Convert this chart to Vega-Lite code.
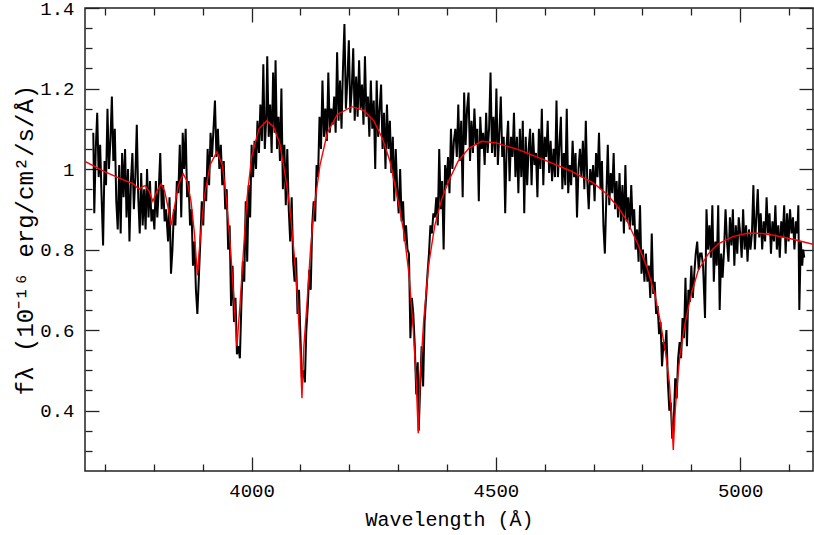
{
"$schema": "https://vega.github.io/schema/vega-lite/v6.json",
"width": 728, "height": 463,
"autosize": {"type": "none"},
"padding": {"left": 85, "top": 8, "right": 1, "bottom": 64},
"background": "white",
"config": {
 "view": {"stroke": "#222", "strokeWidth": 1.5},
 "axis": {"domain": false, "grid": false, "tickColor": "#222", "tickWidth": 1.3, "labelFont": "Liberation Mono", "labelFontSize": 19, "labelColor": "black", "titleFont": "Liberation Mono", "titleFontSize": 20, "titleFontWeight": "normal", "titleColor": "black", "labelOverlap": false}
},
"datasets": {
"spec": [
{"w":3676,"f":1.09},{"w":3678,"f":0.89},{"w":3681,"f":1.05},{"w":3684,"f":1.14},{"w":3687,"f":0.98},{"w":3690,"f":1.06},{"w":3693,"f":0.93},{"w":3696,"f":0.81},{"w":3699,"f":1.02},{"w":3702,"f":0.96},{"w":3705,"f":1.15},{"w":3708,"f":1.00},{"w":3711,"f":1.07},{"w":3714,"f":1.18},{"w":3717,"f":1.02},{"w":3720,"f":1.10},{"w":3723,"f":0.92},{"w":3726,"f":0.85},{"w":3729,"f":1.01},{"w":3732,"f":0.84},{"w":3735,"f":1.04},{"w":3738,"f":0.93},{"w":3741,"f":1.05},{"w":3744,"f":0.88},{"w":3747,"f":1.00},{"w":3750,"f":0.82},{"w":3753,"f":0.97},{"w":3756,"f":1.04},{"w":3759,"f":0.90},{"w":3762,"f":0.98},{"w":3765,"f":1.11},{"w":3768,"f":0.93},{"w":3771,"f":0.84},{"w":3774,"f":0.99},{"w":3777,"f":0.86},{"w":3780,"f":0.95},{"w":3783,"f":0.85},{"w":3786,"f":1.00},{"w":3789,"f":0.88},{"w":3792,"f":0.97},{"w":3795,"f":0.87},{"w":3798,"f":0.90},{"w":3801,"f":0.85},{"w":3804,"f":0.97},{"w":3807,"f":0.88},{"w":3810,"f":0.95},{"w":3813,"f":1.04},{"w":3816,"f":0.90},{"w":3819,"f":0.96},{"w":3822,"f":0.87},{"w":3825,"f":0.90},{"w":3829,"f":0.82},{"w":3832,"f":0.93},{"w":3835,"f":0.74},{"w":3838,"f":0.80},{"w":3841,"f":0.90},{"w":3844,"f":0.86},{"w":3847,"f":0.97},{"w":3850,"f":0.94},{"w":3853,"f":1.06},{"w":3856,"f":0.88},{"w":3859,"f":1.09},{"w":3862,"f":1.00},{"w":3865,"f":1.10},{"w":3868,"f":0.93},{"w":3871,"f":0.97},{"w":3874,"f":0.86},{"w":3877,"f":0.90},{"w":3880,"f":0.76},{"w":3883,"f":0.82},{"w":3886,"f":0.70},{"w":3889,"f":0.64},{"w":3892,"f":0.73},{"w":3895,"f":0.82},{"w":3898,"f":0.92},{"w":3901,"f":0.86},{"w":3904,"f":0.98},{"w":3907,"f":0.92},{"w":3910,"f":1.05},{"w":3913,"f":0.96},{"w":3916,"f":1.09},{"w":3919,"f":1.03},{"w":3922,"f":1.10},{"w":3925,"f":1.17},{"w":3928,"f":1.03},{"w":3931,"f":1.10},{"w":3934,"f":1.00},{"w":3937,"f":1.06},{"w":3940,"f":0.96},{"w":3943,"f":1.02},{"w":3946,"f":0.90},{"w":3949,"f":0.95},{"w":3952,"f":0.80},{"w":3955,"f":0.86},{"w":3958,"f":0.66},{"w":3961,"f":0.76},{"w":3964,"f":0.62},{"w":3967,"f":0.68},{"w":3970,"f":0.54},{"w":3973,"f":0.56},{"w":3976,"f":0.53},{"w":3979,"f":0.66},{"w":3982,"f":0.77},{"w":3985,"f":0.72},{"w":3988,"f":0.92},{"w":3991,"f":0.77},{"w":3994,"f":0.96},{"w":3997,"f":0.88},{"w":4000,"f":1.06},{"w":4003,"f":0.98},{"w":4006,"f":1.07},{"w":4009,"f":1.00},{"w":4012,"f":1.12},{"w":4015,"f":1.04},{"w":4018,"f":1.16},{"w":4021,"f":1.07},{"w":4024,"f":1.26},{"w":4027,"f":1.05},{"w":4030,"f":1.13},{"w":4032,"f":1.28},{"w":4035,"f":1.08},{"w":4038,"f":1.16},{"w":4041,"f":1.04},{"w":4044,"f":1.24},{"w":4047,"f":1.09},{"w":4049,"f":1.27},{"w":4052,"f":1.05},{"w":4055,"f":1.13},{"w":4058,"f":1.02},{"w":4061,"f":1.20},{"w":4064,"f":0.95},{"w":4067,"f":1.06},{"w":4070,"f":0.91},{"w":4073,"f":1.05},{"w":4076,"f":0.90},{"w":4079,"f":0.82},{"w":4082,"f":0.93},{"w":4085,"f":0.77},{"w":4088,"f":0.72},{"w":4091,"f":0.78},{"w":4094,"f":0.64},{"w":4097,"f":0.70},{"w":4100,"f":0.58},{"w":4103,"f":0.48},{"w":4106,"f":0.50},{"w":4109,"f":0.47},{"w":4112,"f":0.60},{"w":4115,"f":0.66},{"w":4118,"f":0.75},{"w":4121,"f":0.70},{"w":4124,"f":0.86},{"w":4127,"f":0.92},{"w":4130,"f":0.87},{"w":4133,"f":1.01},{"w":4136,"f":0.98},{"w":4139,"f":1.13},{"w":4142,"f":1.05},{"w":4145,"f":1.22},{"w":4148,"f":1.08},{"w":4151,"f":1.15},{"w":4154,"f":1.07},{"w":4157,"f":1.24},{"w":4160,"f":1.09},{"w":4163,"f":1.15},{"w":4166,"f":1.11},{"w":4169,"f":1.18},{"w":4172,"f":1.09},{"w":4175,"f":1.29},{"w":4178,"f":1.12},{"w":4181,"f":1.22},{"w":4184,"f":1.10},{"w":4187,"f":1.25},{"w":4190,"f":1.36},{"w":4193,"f":1.15},{"w":4196,"f":1.22},{"w":4199,"f":1.32},{"w":4202,"f":1.14},{"w":4205,"f":1.20},{"w":4208,"f":1.30},{"w":4211,"f":1.12},{"w":4214,"f":1.23},{"w":4217,"f":1.13},{"w":4220,"f":1.27},{"w":4223,"f":1.15},{"w":4226,"f":1.21},{"w":4229,"f":1.11},{"w":4232,"f":1.28},{"w":4235,"f":1.13},{"w":4238,"f":1.18},{"w":4241,"f":1.08},{"w":4244,"f":1.22},{"w":4247,"f":1.10},{"w":4250,"f":1.17},{"w":4253,"f":1.00},{"w":4256,"f":1.22},{"w":4259,"f":1.08},{"w":4262,"f":1.15},{"w":4265,"f":1.21},{"w":4268,"f":1.05},{"w":4271,"f":1.14},{"w":4274,"f":1.00},{"w":4277,"f":1.16},{"w":4280,"f":1.05},{"w":4283,"f":1.12},{"w":4286,"f":0.99},{"w":4289,"f":1.08},{"w":4292,"f":0.92},{"w":4295,"f":1.05},{"w":4298,"f":0.95},{"w":4301,"f":0.89},{"w":4304,"f":1.00},{"w":4307,"f":0.87},{"w":4310,"f":0.92},{"w":4313,"f":0.82},{"w":4316,"f":0.86},{"w":4319,"f":0.80},{"w":4322,"f":0.79},{"w":4325,"f":0.58},{"w":4328,"f":0.68},{"w":4331,"f":0.64},{"w":4334,"f":0.56},{"w":4337,"f":0.44},{"w":4340,"f":0.52},{"w":4342,"f":0.35},{"w":4345,"f":0.46},{"w":4348,"f":0.56},{"w":4351,"f":0.46},{"w":4354,"f":0.62},{"w":4357,"f":0.68},{"w":4360,"f":0.74},{"w":4363,"f":0.79},{"w":4366,"f":0.86},{"w":4369,"f":0.84},{"w":4372,"f":0.89},{"w":4375,"f":0.88},{"w":4378,"f":0.93},{"w":4381,"f":0.86},{"w":4384,"f":1.05},{"w":4387,"f":0.90},{"w":4390,"f":0.97},{"w":4393,"f":0.80},{"w":4396,"f":1.01},{"w":4399,"f":0.96},{"w":4402,"f":1.03},{"w":4405,"f":0.94},{"w":4408,"f":1.10},{"w":4411,"f":1.00},{"w":4414,"f":1.07},{"w":4417,"f":1.10},{"w":4420,"f":1.03},{"w":4423,"f":1.16},{"w":4426,"f":1.02},{"w":4429,"f":1.12},{"w":4432,"f":0.93},{"w":4435,"f":1.19},{"w":4438,"f":1.06},{"w":4441,"f":1.15},{"w":4444,"f":1.19},{"w":4447,"f":1.02},{"w":4450,"f":1.12},{"w":4453,"f":1.04},{"w":4456,"f":1.15},{"w":4459,"f":1.06},{"w":4462,"f":1.10},{"w":4465,"f":0.92},{"w":4468,"f":1.13},{"w":4471,"f":1.05},{"w":4474,"f":1.09},{"w":4477,"f":1.01},{"w":4480,"f":1.14},{"w":4483,"f":1.04},{"w":4486,"f":1.10},{"w":4489,"f":1.24},{"w":4492,"f":1.04},{"w":4495,"f":1.13},{"w":4498,"f":1.03},{"w":4501,"f":1.20},{"w":4504,"f":1.01},{"w":4507,"f":1.09},{"w":4510,"f":1.18},{"w":4513,"f":1.03},{"w":4516,"f":1.08},{"w":4519,"f":0.89},{"w":4522,"f":1.06},{"w":4525,"f":1.12},{"w":4528,"f":0.97},{"w":4531,"f":1.08},{"w":4534,"f":1.03},{"w":4537,"f":1.14},{"w":4540,"f":0.98},{"w":4543,"f":1.08},{"w":4546,"f":0.94},{"w":4549,"f":1.10},{"w":4552,"f":0.98},{"w":4555,"f":1.12},{"w":4558,"f":0.89},{"w":4561,"f":1.08},{"w":4564,"f":0.96},{"w":4567,"f":1.05},{"w":4570,"f":1.10},{"w":4573,"f":0.96},{"w":4576,"f":1.09},{"w":4579,"f":1.01},{"w":4582,"f":1.04},{"w":4585,"f":0.93},{"w":4588,"f":1.10},{"w":4591,"f":1.00},{"w":4594,"f":1.15},{"w":4597,"f":0.96},{"w":4600,"f":1.08},{"w":4603,"f":1.03},{"w":4606,"f":1.12},{"w":4609,"f":0.99},{"w":4612,"f":1.07},{"w":4615,"f":0.97},{"w":4618,"f":1.05},{"w":4621,"f":0.98},{"w":4624,"f":1.17},{"w":4627,"f":0.98},{"w":4630,"f":1.06},{"w":4633,"f":1.13},{"w":4636,"f":0.95},{"w":4639,"f":1.04},{"w":4642,"f":0.96},{"w":4645,"f":1.15},{"w":4648,"f":0.94},{"w":4651,"f":1.01},{"w":4654,"f":0.96},{"w":4657,"f":1.07},{"w":4660,"f":0.98},{"w":4663,"f":1.04},{"w":4666,"f":0.88},{"w":4669,"f":1.00},{"w":4672,"f":1.05},{"w":4675,"f":0.98},{"w":4678,"f":1.07},{"w":4681,"f":0.95},{"w":4684,"f":1.12},{"w":4687,"f":0.97},{"w":4690,"f":0.90},{"w":4693,"f":1.00},{"w":4696,"f":0.96},{"w":4699,"f":1.01},{"w":4702,"f":0.92},{"w":4705,"f":1.04},{"w":4708,"f":0.98},{"w":4711,"f":1.09},{"w":4714,"f":0.95},{"w":4717,"f":1.02},{"w":4720,"f":0.86},{"w":4723,"f":0.79},{"w":4726,"f":0.93},{"w":4729,"f":1.06},{"w":4732,"f":0.91},{"w":4735,"f":0.99},{"w":4738,"f":0.94},{"w":4741,"f":1.04},{"w":4744,"f":0.90},{"w":4747,"f":0.97},{"w":4750,"f":0.88},{"w":4753,"f":0.99},{"w":4756,"f":0.87},{"w":4759,"f":0.96},{"w":4762,"f":0.84},{"w":4765,"f":1.01},{"w":4768,"f":0.87},{"w":4771,"f":0.93},{"w":4774,"f":0.85},{"w":4777,"f":0.96},{"w":4780,"f":0.86},{"w":4783,"f":0.90},{"w":4786,"f":0.80},{"w":4789,"f":0.85},{"w":4792,"f":0.77},{"w":4795,"f":0.91},{"w":4798,"f":0.74},{"w":4801,"f":0.80},{"w":4804,"f":0.72},{"w":4807,"f":0.79},{"w":4810,"f":0.72},{"w":4813,"f":0.76},{"w":4816,"f":0.68},{"w":4819,"f":0.84},{"w":4822,"f":0.69},{"w":4825,"f":0.72},{"w":4828,"f":0.64},{"w":4831,"f":0.66},{"w":4834,"f":0.59},{"w":4837,"f":0.62},{"w":4840,"f":0.51},{"w":4843,"f":0.57},{"w":4846,"f":0.55},{"w":4849,"f":0.60},{"w":4852,"f":0.47},{"w":4855,"f":0.40},{"w":4858,"f":0.42},{"w":4861,"f":0.33},{"w":4864,"f":0.37},{"w":4867,"f":0.48},{"w":4870,"f":0.43},{"w":4873,"f":0.53},{"w":4876,"f":0.57},{"w":4879,"f":0.53},{"w":4882,"f":0.63},{"w":4885,"f":0.58},{"w":4888,"f":0.73},{"w":4891,"f":0.56},{"w":4894,"f":0.70},{"w":4897,"f":0.67},{"w":4900,"f":0.76},{"w":4903,"f":0.68},{"w":4906,"f":0.74},{"w":4909,"f":0.79},{"w":4912,"f":0.82},{"w":4915,"f":0.75},{"w":4918,"f":0.79},{"w":4921,"f":0.79},{"w":4924,"f":0.76},{"w":4928,"f":0.63},{"w":4931,"f":0.90},{"w":4934,"f":0.80},{"w":4937,"f":0.86},{"w":4940,"f":0.78},{"w":4943,"f":0.91},{"w":4946,"f":0.72},{"w":4949,"f":0.82},{"w":4952,"f":0.76},{"w":4955,"f":0.91},{"w":4958,"f":0.65},{"w":4961,"f":0.79},{"w":4964,"f":0.73},{"w":4967,"f":0.80},{"w":4970,"f":0.90},{"w":4973,"f":0.82},{"w":4976,"f":0.77},{"w":4979,"f":0.88},{"w":4982,"f":0.81},{"w":4985,"f":0.90},{"w":4988,"f":0.76},{"w":4991,"f":0.86},{"w":4994,"f":0.79},{"w":4997,"f":0.88},{"w":5000,"f":0.84},{"w":5003,"f":0.78},{"w":5006,"f":0.90},{"w":5009,"f":0.80},{"w":5012,"f":0.86},{"w":5015,"f":0.77},{"w":5018,"f":0.85},{"w":5021,"f":0.80},{"w":5024,"f":0.84},{"w":5027,"f":0.96},{"w":5030,"f":0.80},{"w":5033,"f":0.88},{"w":5036,"f":0.95},{"w":5039,"f":0.83},{"w":5042,"f":0.89},{"w":5045,"f":0.80},{"w":5048,"f":0.87},{"w":5051,"f":0.82},{"w":5054,"f":0.93},{"w":5057,"f":0.84},{"w":5060,"f":0.89},{"w":5063,"f":0.79},{"w":5066,"f":0.87},{"w":5069,"f":0.82},{"w":5072,"f":0.91},{"w":5075,"f":0.80},{"w":5078,"f":0.86},{"w":5081,"f":0.78},{"w":5084,"f":0.87},{"w":5087,"f":0.83},{"w":5090,"f":0.91},{"w":5093,"f":0.79},{"w":5096,"f":0.89},{"w":5099,"f":0.82},{"w":5102,"f":0.90},{"w":5105,"f":0.84},{"w":5108,"f":0.88},{"w":5111,"f":0.80},{"w":5114,"f":0.87},{"w":5117,"f":0.84},{"w":5119,"f":0.91},{"w":5121,"f":0.65},{"w":5124,"f":0.82},{"w":5127,"f":0.76},{"w":5129,"f":0.80},{"w":5131,"f":0.78}
],
"model": [
{"w":3659,"f":1.019},{"w":3700,"f":0.993},{"w":3740,"f":0.972},{"w":3758,"f":0.963},{"w":3765,"f":0.955},{"w":3770,"f":0.950},{"w":3775,"f":0.955},{"w":3782,"f":0.959},{"w":3790,"f":0.945},{"w":3798,"f":0.920},{"w":3806,"f":0.945},{"w":3815,"f":0.963},{"w":3822,"f":0.945},{"w":3829,"f":0.905},{"w":3835,"f":0.860},{"w":3842,"f":0.905},{"w":3850,"f":0.960},{"w":3860,"f":0.988},{"w":3868,"f":0.970},{"w":3876,"f":0.920},{"w":3883,"f":0.840},{"w":3889,"f":0.736},{"w":3895,"f":0.830},{"w":3903,"f":0.930},{"w":3915,"f":1.010},{"w":3929,"f":1.043},{"w":3940,"f":1.010},{"w":3948,"f":0.930},{"w":3956,"f":0.815},{"w":3963,"f":0.690},{"w":3970,"f":0.560},{"w":3976,"f":0.660},{"w":3983,"f":0.790},{"w":3990,"f":0.920},{"w":4000,"f":1.030},{"w":4015,"f":1.100},{"w":4031,"f":1.120},{"w":4045,"f":1.105},{"w":4058,"f":1.062},{"w":4070,"f":0.975},{"w":4079,"f":0.897},{"w":4087,"f":0.790},{"w":4094,"f":0.680},{"w":4099,"f":0.560},{"w":4103,"f":0.431},{"w":4107,"f":0.560},{"w":4113,"f":0.660},{"w":4120,"f":0.790},{"w":4128,"f":0.905},{"w":4140,"f":1.010},{"w":4155,"f":1.090},{"w":4175,"f":1.135},{"w":4205,"f":1.155},{"w":4230,"f":1.145},{"w":4250,"f":1.120},{"w":4268,"f":1.075},{"w":4283,"f":1.020},{"w":4300,"f":0.920},{"w":4312,"f":0.840},{"w":4322,"f":0.740},{"w":4331,"f":0.600},{"w":4337,"f":0.470},{"w":4341,"f":0.344},{"w":4345,"f":0.480},{"w":4352,"f":0.620},{"w":4362,"f":0.760},{"w":4375,"f":0.860},{"w":4389,"f":0.925},{"w":4405,"f":0.975},{"w":4423,"f":1.020},{"w":4445,"f":1.052},{"w":4471,"f":1.069},{"w":4500,"f":1.065},{"w":4549,"f":1.047},{"w":4600,"f":1.022},{"w":4650,"f":0.997},{"w":4700,"f":0.965},{"w":4727,"f":0.938},{"w":4750,"f":0.905},{"w":4768,"f":0.872},{"w":4790,"f":0.815},{"w":4809,"f":0.756},{"w":4825,"f":0.690},{"w":4836,"f":0.624},{"w":4847,"f":0.545},{"w":4855,"f":0.470},{"w":4860,"f":0.380},{"w":4863,"f":0.302},{"w":4867,"f":0.400},{"w":4872,"f":0.480},{"w":4877,"f":0.540},{"w":4887,"f":0.616},{"w":4900,"f":0.690},{"w":4914,"f":0.748},{"w":4935,"f":0.790},{"w":4955,"f":0.814},{"w":4985,"f":0.832},{"w":5017,"f":0.841},{"w":5045,"f":0.840},{"w":5071,"f":0.835},{"w":5110,"f":0.825},{"w":5149,"f":0.813}
]
},
"layer": [
 {"data": {"name": "spec"},
  "mark": {"type": "line", "color": "black", "strokeWidth": 2, "clip": true},
  "encoding": {
   "x": {"field": "w", "type": "quantitative", "scale": {"domain": [3659, 5149], "nice": false, "zero": false},
     "axis": {"orient": "bottom", "values": [3700,3800,3900,4000,4100,4200,4300,4400,4500,4600,4700,4800,4900,5000,5100], "format": "d",
       "labelExpr": "datum.value % 500 === 0 ? datum.label : ''",
       "tickSize": {"condition": {"test": "datum.value % 500 === 0", "value": -14}, "value": -7},
       "labelPadding": 24, "title": "Wavelength (Å)", "titlePadding": 2}},
   "y": {"field": "f", "type": "quantitative", "scale": {"domain": [0.25, 1.4], "nice": false, "zero": false},
     "axis": {"orient": "left", "values": [0.3,0.35,0.4,0.45,0.5,0.55,0.6,0.65,0.7,0.75,0.8,0.85,0.9,0.95,1,1.05,1.1,1.15,1.2,1.25,1.3,1.35,1.4], "format": "~g",
       "labelExpr": "indexof([0.4,0.6,0.8,1,1.2,1.4], datum.value) >= 0 ? datum.label : ''",
       "tickSize": {"condition": {"test": "indexof([0.4,0.6,0.8,1,1.2,1.4], datum.value) >= 0", "value": -14}, "value": -7},
       "labelPadding": 25, "title": "fλ  (10⁻¹⁶ erg/cm²/s/Å)", "titleFontSize": 24, "titlePadding": 2}}
  }},
 {"data": {"name": "model"},
  "mark": {"type": "line", "color": "#ff0000", "strokeWidth": 1.4, "clip": true},
  "encoding": {
   "x": {"field": "w", "type": "quantitative", "scale": {"domain": [3659, 5149], "nice": false, "zero": false},
     "axis": {"orient": "top", "values": [3700,3800,3900,4000,4100,4200,4300,4400,4500,4600,4700,4800,4900,5000,5100], "labels": false, "title": null,
       "tickSize": {"condition": {"test": "datum.value % 500 === 0", "value": -14}, "value": -7}}},
   "y": {"field": "f", "type": "quantitative", "scale": {"domain": [0.25, 1.4], "nice": false, "zero": false},
     "axis": {"orient": "right", "values": [0.3,0.35,0.4,0.45,0.5,0.55,0.6,0.65,0.7,0.75,0.8,0.85,0.9,0.95,1,1.05,1.1,1.15,1.2,1.25,1.3,1.35,1.4], "labels": false, "title": null,
       "tickSize": {"condition": {"test": "indexof([0.4,0.6,0.8,1,1.2,1.4], datum.value) >= 0", "value": -14}, "value": -7}}}
  }}
],
"resolve": {"axis": {"x": "independent", "y": "independent"}}
}
